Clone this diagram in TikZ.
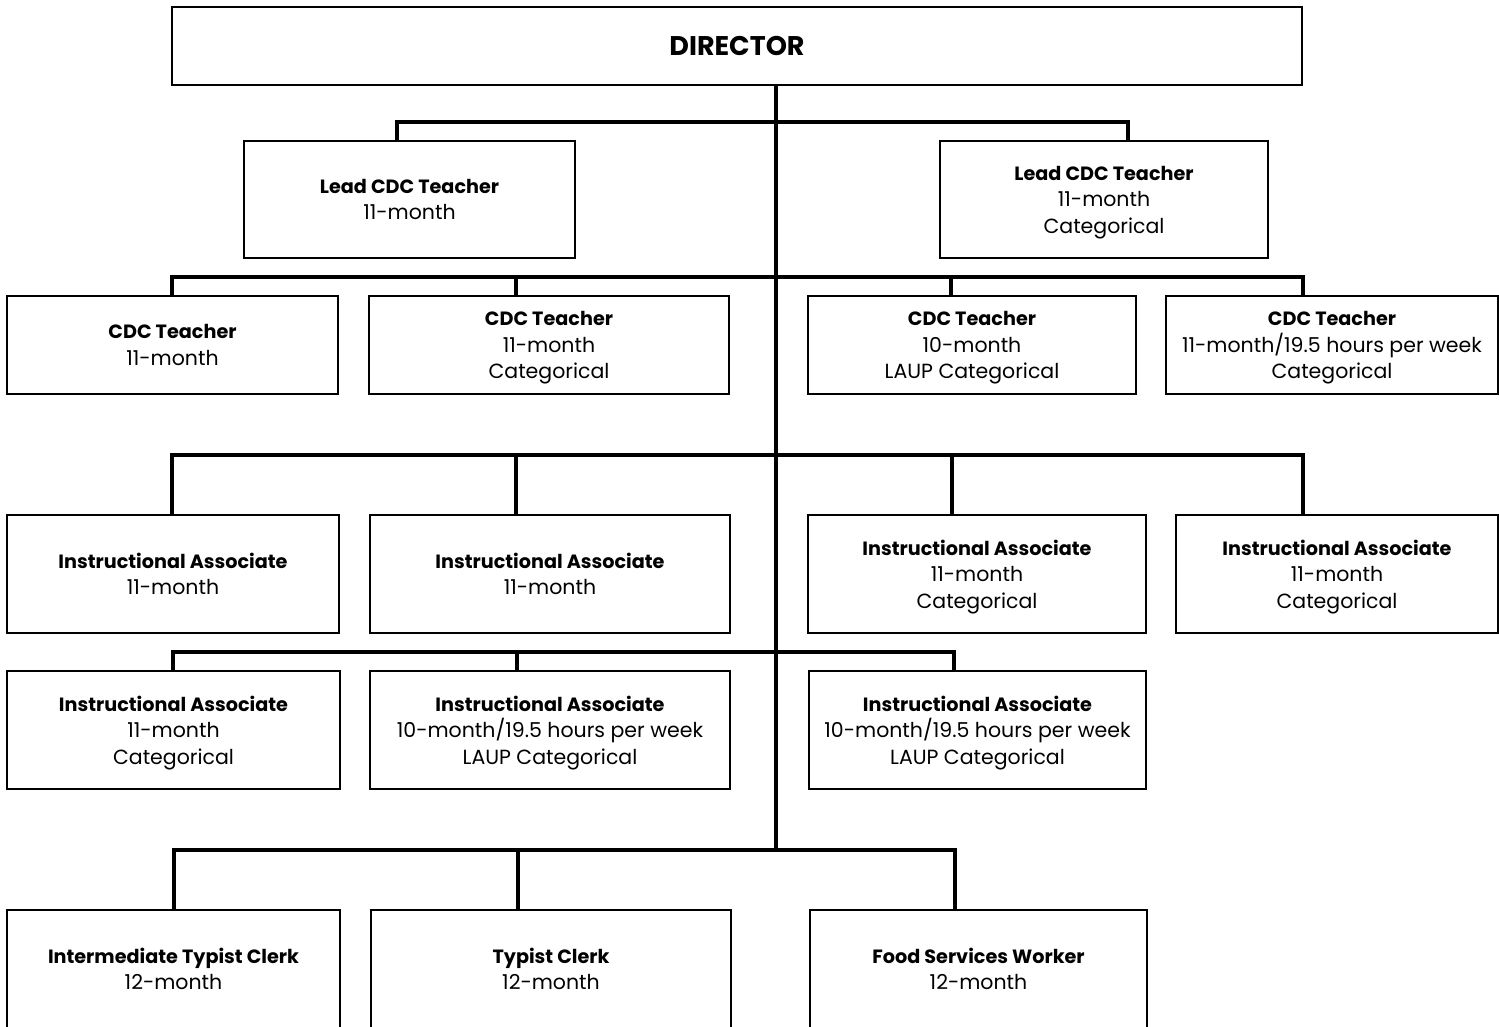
\documentclass[tikz,border=0pt]{standalone}
\usepackage{fontspec}
\setmainfont{Poppins}
\tikzset{
  box/.style={draw, line width=1.5pt, align=center, inner sep=0pt,
    font=\fontsize{20.5}{26.5}\selectfont, minimum height=118pt},
  conn/.style={line width=4pt, line cap=rect}
}
\newcommand{\hd}[1]{{\fontsize{19.2}{26.5}\selectfont\bfseries #1}}
\begin{document}
\begin{tikzpicture}[x=1pt, y=-1pt]
\clip (0,0) rectangle (1499,1026);
% director
\node[box, minimum width=1130pt, minimum height=78pt, font=\fontsize{27}{30}\selectfont] (dir) at (737,46) {\textbf{DIRECTOR}};
% lead teachers
\node[box, minimum width=331pt, minimum height=117pt] (lead1) at (409.5,199.5) {\hd{Lead CDC Teacher}\\11-month};
\node[box, minimum width=328pt, minimum height=117pt] (lead2) at (1104,199.5) {\hd{Lead CDC Teacher}\\11-month\\\smash{Categorical}};
% cdc teachers
\node[box, minimum width=331pt, minimum height=98pt] (cdc1) at (172.5,345) {\hd{CDC Teacher}\\11-month};
\node[box, minimum width=360pt, minimum height=98pt] (cdc2) at (549,345) {\hd{CDC Teacher}\\11-month\\\smash{Categorical}};
\node[box, minimum width=328pt, minimum height=98pt] (cdc3) at (972,345) {\hd{CDC Teacher}\\10-month\\\smash{LAUP Categorical}};
\node[box, minimum width=332pt, minimum height=98pt] (cdc4) at (1332,345) {\hd{CDC Teacher}\\11-month/19.5 hours per week\\\smash{Categorical}};
% instructional associates, first row
\node[box, minimum width=332pt] (ia1) at (173,574) {\hd{Instructional Associate}\\11-month};
\node[box, minimum width=360pt] (ia2) at (550,574) {\hd{Instructional Associate}\\11-month};
\node[box, minimum width=338pt] (ia3) at (977,574) {\hd{Instructional Associate}\\11-month\\\smash{Categorical}};
\node[box, minimum width=322pt] (ia4) at (1337,574) {\hd{Instructional Associate}\\11-month\\\smash{Categorical}};
% instructional associates, second row
\node[box, minimum width=333pt] (ia5) at (173.5,730) {\hd{Instructional Associate}\\11-month\\\smash{Categorical}};
\node[box, minimum width=360pt] (ia6) at (550,730) {\hd{Instructional Associate}\\10-month/19.5 hours per week\\\smash{LAUP Categorical}};
\node[box, minimum width=337pt] (ia7) at (977.5,730) {\hd{Instructional Associate}\\10-month/19.5 hours per week\\\smash{LAUP Categorical}};
% clerks and food services
\node[box, minimum width=333pt] (clk1) at (173.5,969) {\hd{Intermediate Typist Clerk}\\12-month};
\node[box, minimum width=360pt] (clk2) at (551,969) {\hd{Typist Clerk}\\12-month};
\node[box, minimum width=337pt] (food) at (978.5,969) {\hd{Food Services Worker}\\12-month};
% bus lines
\coordinate (tr) at (776,850);
\coordinate (b1) at (397,122);
\coordinate (b2) at (1128,122);
\draw[conn] (dir.south -| tr) -- (tr);
\draw[conn] (lead1.north -| b1) |- (b2) -- (lead2.north -| b2);
\coordinate (c1) at (172,277);
\coordinate (c2) at (516,277);
\coordinate (c3) at (951,277);
\coordinate (c4) at (1303,277);
\draw[conn] (cdc1.north -| c1) |- (c4) -- (cdc4.north -| c4);
\draw[conn] (c2) -- (cdc2.north -| c2);
\draw[conn] (c3) -- (cdc3.north -| c3);
\coordinate (d1) at (172,455);
\coordinate (d2) at (516,455);
\coordinate (d3) at (952,455);
\coordinate (d4) at (1303,455);
\draw[conn] (ia1.north -| d1) |- (d4) -- (ia4.north -| d4);
\draw[conn] (d2) -- (ia2.north -| d2);
\draw[conn] (d3) -- (ia3.north -| d3);
\coordinate (e1) at (173,652);
\coordinate (e2) at (517,652);
\coordinate (e3) at (954,652);
\draw[conn] (ia5.north -| e1) |- (e3) -- (ia7.north -| e3);
\draw[conn] (e2) -- (ia6.north -| e2);
\coordinate (f1) at (174,850);
\coordinate (f2) at (518,850);
\coordinate (f3) at (955,850);
\draw[conn] (clk1.north -| f1) |- (f3) -- (food.north -| f3);
\draw[conn] (f2) -- (clk2.north -| f2);
\end{tikzpicture}
\end{document}
